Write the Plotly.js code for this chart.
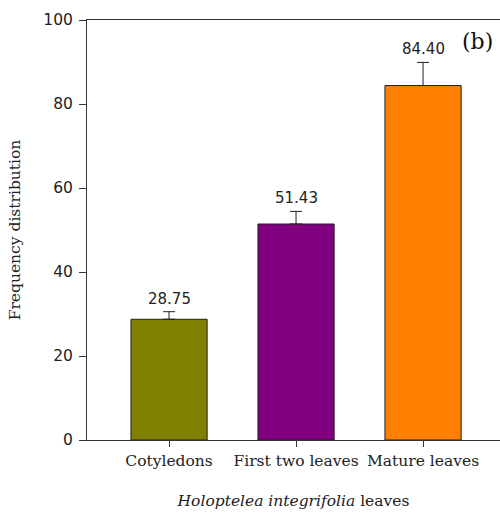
<!DOCTYPE html>
<html>
<head>
<meta charset="utf-8">
<script src="https://cdn.plot.ly/plotly-3.0.1.min.js"></script>
<style>html,body{margin:0;padding:0;background:#fff;}</style>
</head>
<body>
<div id="chart" style="width:500px;height:514px;"></div>
<script>
const categories = ["Cotyledons", "First two leaves", "Mature leaves"];
const values = [28.75, 51.43, 84.40];
const errors = [1.8, 3.0, 5.5];
const labels = ["28.75", "51.43", "84.40"];
const colors = ["#808000", "#800080", "#FF8000"];
const yTicks = [0, 20, 40, 60, 80, 100];

const trace = {
  type: "bar",
  x: categories,
  y: values,
  width: 0.6,
  marker: {color: colors, line: {color: "#222", width: 1}},
  error_y: {type: "data", array: errors, arrayminus: errors.map(() => 0), symmetric: false,
            color: "#222", thickness: 1, width: 6},
  hoverinfo: "none"
};

const sans = "DejaVu Sans, sans-serif";
const serif = "DejaVu Serif, serif";

const annotations = categories.map((c, i) => ({
  x: c, y: values[i] + errors[i], xref: "x", yref: "y",
  text: labels[i], showarrow: false, yanchor: "bottom", yshift: 2,
  font: {family: sans, size: 15, color: "#222"}
}));
annotations.push({
  xref: "paper", yref: "paper", x: 0.903, y: 0.95, xanchor: "left", yanchor: "middle",
  text: "(b)", showarrow: false,
  font: {family: serif, size: 22, color: "#111"}
});

const layout = {
  width: 500, height: 514,
  margin: {l: 87, r: 0, t: 20, b: 74},
  paper_bgcolor: "#fff", plot_bgcolor: "#fff",
  showlegend: false,
  xaxis: {
    type: "category",
    range: [-0.646, 2.606],
    showline: true, linecolor: "#333", linewidth: 1, mirror: true,
    ticks: "outside", ticklen: 6, tickcolor: "#333",
    showgrid: false, zeroline: false,
    tickfont: {family: serif, size: 15.5, color: "#222"},
    title: {text: "<i>Holoptelea integrifolia</i> leaves", standoff: 26,
            font: {family: serif, size: 15.5, color: "#222"}}
  },
  yaxis: {
    range: [0, 100],
    tickvals: yTicks,
    showline: true, linecolor: "#333", linewidth: 1,
    ticks: "outside", ticklen: 7, tickcolor: "#333",
    ticklabelstandoff: 3,
    showgrid: false, zeroline: false,
    tickfont: {family: sans, size: 15.5, color: "#222"},
    title: {text: "Frequency distribution", standoff: 18,
            font: {family: serif, size: 15.5, color: "#222"}}
  },
  annotations: annotations
};

Plotly.newPlot("chart", [trace], layout, {displayModeBar: false, staticPlot: true});
</script>
</body>
</html>
